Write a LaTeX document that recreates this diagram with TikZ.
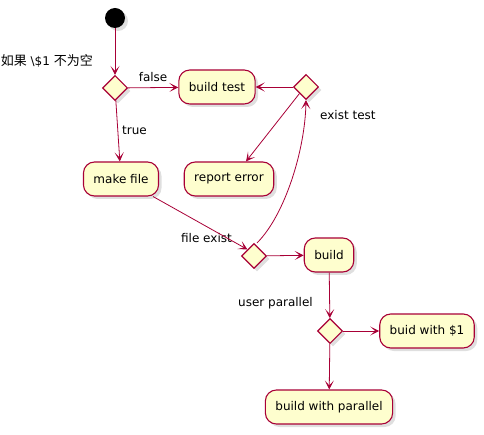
\documentclass[tikz,border=0pt]{standalone}
\usepackage{fontspec}
\setmainfont{DejaVu Sans}
\newfontfamily\cjk{Noto Sans CJK SC}
\usepackage{xcolor}
\usepackage{tikz}
\usetikzlibrary{shapes.geometric,shadows,arrows.meta}
\definecolor{umlred}{HTML}{A80036}
\definecolor{umlfill}{HTML}{FEFECE}
\tikzset{
  shade/.style={drop shadow={opacity=0.25,shadow xshift=3pt,shadow yshift=-3pt}},
  act/.style={draw=umlred,fill=umlfill,line width=1.1pt,rounded corners=11pt,
    minimum height=34pt,inner xsep=10pt,font=\fontsize{12}{14}\selectfont,shade},
  branch/.style={diamond,draw=umlred,fill=umlfill,line width=1.1pt,
    minimum width=25pt,minimum height=25pt,inner sep=0pt,aspect=1,shade},
  lbl/.style={font=\fontsize{12}{14}\selectfont,inner sep=1pt},
  flow/.style={draw=umlred,line width=0.8pt,
    -{Stealth[length=9pt,width=9pt,inset=5pt]}}
}
\begin{document}
\begin{tikzpicture}[x=1pt,y=-1pt]
\useasboundingbox (0,0) rectangle (484,435);
\node (start) at (115,18)[circle,fill=black,minimum size=20pt,inner sep=0pt,shade]{};
\node (d1) at (115,88)[branch]{};
\node (cond) at (94,61)[lbl,anchor=east]{{\cjk\fontsize{13}{14}\selectfont 如果} \textbackslash\$1 {\cjk\fontsize{13}{14}\selectfont 不为空}};
\node (bt) at (217,87)[act]{build test};
\node (d2) at (306,87)[branch]{};
\node (exist) at (319,115)[lbl,anchor=west]{exist test};
\node (mf) at (121,179)[act]{make file};
\node (re) at (229,179)[act]{report error};
\node (d3) at (254,256)[branch]{};
\node (fexist) at (233,238)[lbl,anchor=east]{file exist};
\node (bu) at (329,255)[act]{build};
\node (upar) at (314,303)[lbl,anchor=east]{user parallel};
\node (d4) at (330,331)[branch]{};
\node (bw) at (427,331)[act]{buid with \$1};
\node (bp) at (329,407)[act]{build with parallel};
%
\draw[flow] (start) -- (d1);
\draw[flow] (d1) -- (bt) node[lbl,midway,above=5pt] (false) {false};
\draw[flow] (d1) -- (mf) node[lbl,midway,right=3pt] (true) {true};
\draw[flow] (d2) -- (bt);
\draw[flow] (d2.south west) -- ([xshift=17pt]re.north);
\draw[flow] ([xshift=-6pt]mf.south east) -- (d3.north west);
\draw[flow] ([xshift=3pt]d3.north) .. controls (285,215) and (305,150) .. (d2.south);
\draw[flow] (d3) -- (bu);
\draw[flow] (bu) -- (d4);
\draw[flow] (d4) -- (bw);
\draw[flow] (d4) -- (bp);
%
\end{tikzpicture}
\end{document}
